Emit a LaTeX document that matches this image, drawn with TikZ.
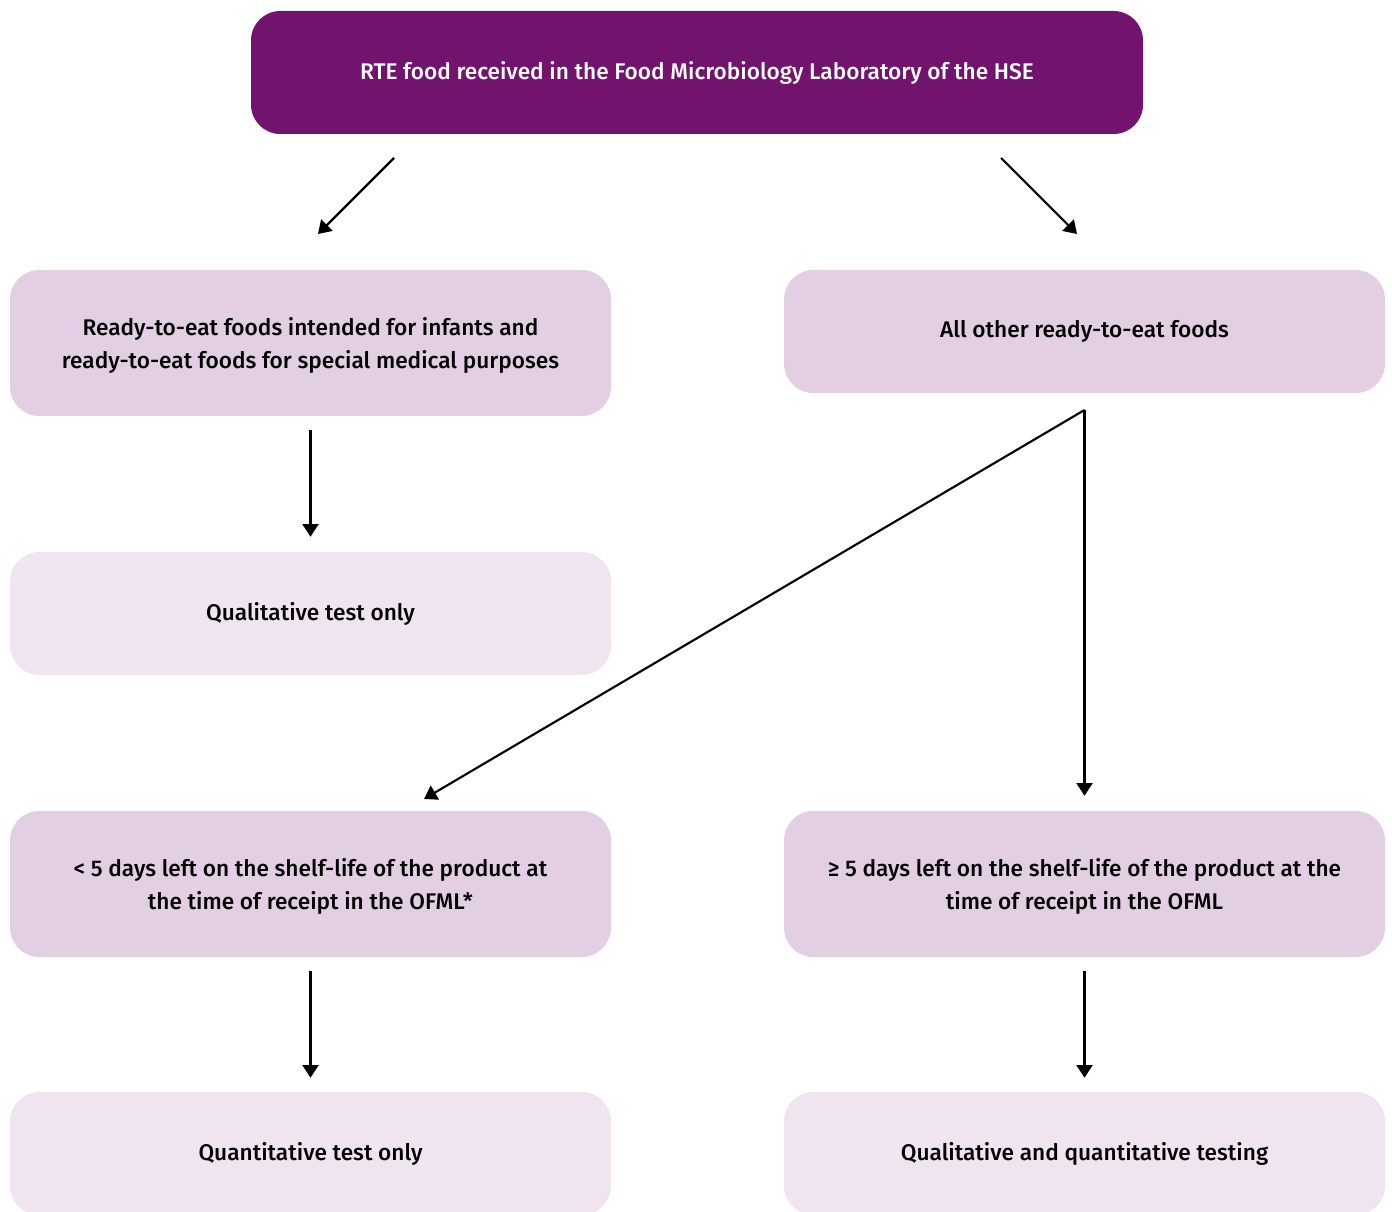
\documentclass[tikz,border=0pt]{standalone}
\usepackage{fontspec}
\setmainfont{Fira Sans}[BoldFont={Fira Sans Medium}]
\usepackage{xcolor}
\usetikzlibrary{arrows.meta}

\definecolor{rtepurple}{RGB}{114,20,110}
\definecolor{rtemid}{RGB}{227,207,227}
\definecolor{rtelight}{RGB}{240,228,240}

\tikzset{
  boxbase/.style={rounded corners=22pt, align=center, inner sep=0pt,
    font=\fontsize{17}{25}\selectfont\bfseries, text=black},
  topbox/.style={boxbase, fill=rtepurple, text=white, minimum width=669pt, minimum height=92.25pt},
  midbox/.style={boxbase, fill=rtemid, minimum width=450.75pt},
  twoline/.style={minimum height=109.5pt, text depth=-1.5pt},
  lightbox/.style={boxbase, fill=rtelight, minimum width=450.75pt, minimum height=92.25pt},
  arr/.style={line width=1.6pt, -{Triangle[width=12pt,length=9.5pt]}}
}

\begin{document}
\begin{tikzpicture}[x=0.75pt,y=0.75pt,yscale=-1,xscale=1]
\useasboundingbox (0,0) rectangle (1392,1212);
\clip (0,0) rectangle (1392,1212);

%Shape: Rounded Rect (top)
\node (top) at (697,72.5) [topbox] {RTE food received in the Food Microbiology Laboratory of the HSE};

%Shape: Rounded Rect (first row)
\node (infant) at (310.5,343) [midbox, twoline] {Ready-to-eat foods intended for infants and\\ready-to-eat foods for special medical purposes};
\node (other) at (1084.5,331.5) [midbox, minimum height=92.25pt] {All other ready-to-eat foods};

%Shape: Rounded Rect (second row)
\node (qualonly) at (310.5,613.5) [lightbox] {Qualitative test only};

%Shape: Rounded Rect (third row)
\node (short) at (310.5,884) [midbox, twoline] {< 5 days left on the shelf-life of the product at\\the time of receipt in the OFML*};
\node (long) at (1084.5,884) [midbox, twoline] {≥ 5 days left on the shelf-life of the product at the\\time of receipt in the OFML};

%Shape: Rounded Rect (bottom row)
\node (quantonly) at (310.5,1153.5) [lightbox] {Quantitative test only};
\node (both) at (1084.5,1153.5) [lightbox] {Qualitative and quantitative testing};

%Arrow ends
\coordinate (topl) at (394,158);
\coordinate (infantin) at (318,234);
\coordinate (topr) at (1001,158);
\coordinate (otherin) at (1077,234);
\coordinate (split) at (1084.5,410);
\coordinate (shortin) at (424,799);

%Straight Lines
\draw [arr] (topl) -- (infantin);
\draw [arr] (topr) -- (otherin);
\draw [arr, shorten <=10.5pt, shorten >=11.25pt] (infant.south) -- (qualonly.north);
\draw [arr] (split) -- (shortin);
\draw [arr, shorten >=11.25pt] (split) -- (long.north);
\draw [arr, shorten <=10.5pt, shorten >=10.5pt] (short.south) -- (quantonly.north);
\draw [arr, shorten <=10.5pt, shorten >=10.5pt] (long.south) -- (both.north);

\end{tikzpicture}
\end{document}
